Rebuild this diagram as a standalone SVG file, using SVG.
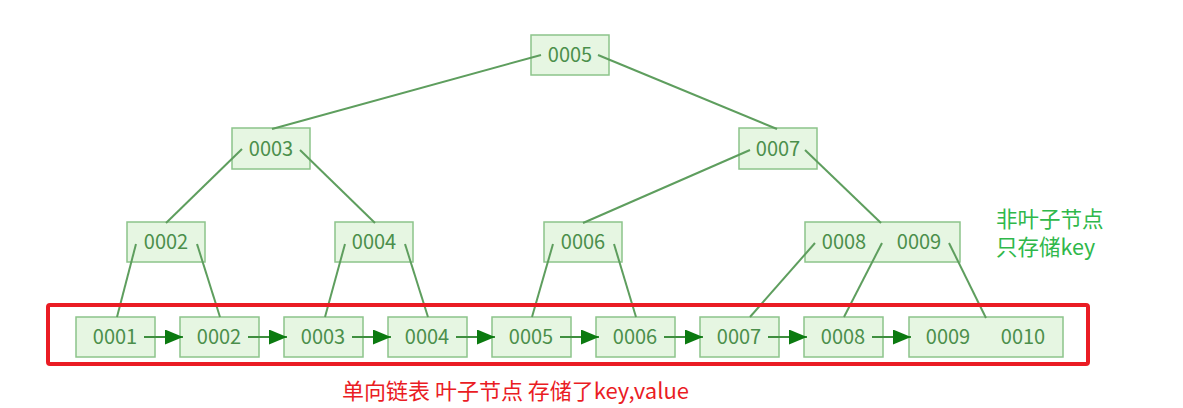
<svg xmlns="http://www.w3.org/2000/svg" width="1183" height="408" viewBox="0 0 1183 408">
<style>
.nd{fill:#e6f6e2;stroke:#8cc48a;stroke-width:1.5}
.t{font-family:"Noto Sans CJK SC","Liberation Sans",sans-serif;font-size:20px;fill:#4b8f4b;text-anchor:middle}
.ln{stroke:#5e9e5e;stroke-width:2;fill:none}
.ar{stroke:#3f8f3f;stroke-width:2;fill:none;marker-end:url(#ah)}
.cn{font-family:"Noto Sans CJK SC",sans-serif}
</style>
<defs>
<marker id="ah" markerUnits="userSpaceOnUse" markerWidth="19" markerHeight="15" refX="18" refY="7.5" orient="auto">
<path d="M0,0 L18,7.5 L0,15 Z" fill="#0b7a10"/>
</marker>
</defs>
<rect width="1183" height="408" fill="#ffffff"/>
<g id="n0005"><rect class="nd" x="531" y="35" width="78" height="40"/><text class="t" x="570" y="62">0005</text></g>
<g id="n0003"><rect class="nd" x="232" y="128" width="78" height="41"/><text class="t" x="271" y="156">0003</text></g>
<g id="n0007"><rect class="nd" x="739" y="128" width="78" height="41"/><text class="t" x="778" y="156">0007</text></g>
<g id="n0002"><rect class="nd" x="127" y="222" width="78" height="40"/><text class="t" x="166" y="249">0002</text></g>
<g id="n0004"><rect class="nd" x="335" y="222" width="78" height="40"/><text class="t" x="374" y="249">0004</text></g>
<g id="n0006"><rect class="nd" x="544" y="222" width="78" height="40"/><text class="t" x="583" y="249">0006</text></g>
<g id="n0008_0009"><rect class="nd" x="805" y="222" width="155" height="40"/><text class="t" x="844" y="249">0008</text><text class="t" x="919" y="249">0009</text></g>
<g id="leaf0001"><rect class="nd" x="76" y="317" width="79" height="40"/><text class="t" x="115" y="344">0001</text></g>
<g id="leaf0002"><rect class="nd" x="180" y="317" width="79" height="40"/><text class="t" x="219" y="344">0002</text></g>
<g id="leaf0003"><rect class="nd" x="284" y="317" width="79" height="40"/><text class="t" x="323" y="344">0003</text></g>
<g id="leaf0004"><rect class="nd" x="388" y="317" width="79" height="40"/><text class="t" x="427" y="344">0004</text></g>
<g id="leaf0005"><rect class="nd" x="492" y="317" width="79" height="40"/><text class="t" x="531" y="344">0005</text></g>
<g id="leaf0006"><rect class="nd" x="596" y="317" width="79" height="40"/><text class="t" x="635" y="344">0006</text></g>
<g id="leaf0007"><rect class="nd" x="700" y="317" width="79" height="40"/><text class="t" x="739" y="344">0007</text></g>
<g id="leaf0008"><rect class="nd" x="804" y="317" width="79" height="40"/><text class="t" x="843" y="344">0008</text></g>
<g id="leaf0009_0010"><rect class="nd" x="909" y="317" width="154" height="40"/><text class="t" x="948" y="344">0009</text><text class="t" x="1023" y="344">0010</text></g>
<g id="connectors">
<line class="ln" x1="541" y1="55" x2="272" y2="129"/>
<line class="ln" x1="598" y1="55" x2="777" y2="129"/>
<line class="ln" x1="242" y1="149" x2="166" y2="223"/>
<line class="ln" x1="300" y1="150" x2="375" y2="223"/>
<line class="ln" x1="750" y1="150" x2="583" y2="223"/>
<line class="ln" x1="805" y1="150" x2="881" y2="223"/>
<line class="ln" x1="136" y1="244" x2="117" y2="317"/>
<line class="ln" x1="197" y1="244" x2="220" y2="317"/>
<line class="ln" x1="345" y1="244" x2="325" y2="317"/>
<line class="ln" x1="405" y1="244" x2="428" y2="317"/>
<line class="ln" x1="553" y1="244" x2="532" y2="317"/>
<line class="ln" x1="614" y1="244" x2="636" y2="317"/>
<line class="ln" x1="815" y1="243" x2="750" y2="317"/>
<line class="ln" x1="882" y1="243" x2="844" y2="317"/>
<line class="ln" x1="949" y1="243" x2="986" y2="318"/>
<line class="ar" x1="144" y1="337" x2="183" y2="337"/>
<line class="ar" x1="248" y1="337" x2="287" y2="337"/>
<line class="ar" x1="352" y1="337" x2="391" y2="337"/>
<line class="ar" x1="456" y1="337" x2="495" y2="337"/>
<line class="ar" x1="560" y1="337" x2="599" y2="337"/>
<line class="ar" x1="664" y1="337" x2="703" y2="337"/>
<line class="ar" x1="768" y1="337" x2="807" y2="337"/>
<line class="ar" x1="872" y1="337" x2="911" y2="337"/>
</g>
<g id="leafFrame"><rect x="48" y="305" width="1040" height="59" fill="none" stroke="#ea1c24" stroke-width="4" rx="2"/></g>
<g id="labels">
<text class="cn" x="996" y="227" fill="#2fb84a" font-size="21.5">非叶子节点</text>
<text class="cn" x="996" y="255" fill="#2fb84a" font-size="21.5">只存储key</text>
<text class="cn" x="342" y="399" fill="#ea1c24" font-size="22">单向链表 叶子节点 存储了key,value</text>
</g>
</svg>
